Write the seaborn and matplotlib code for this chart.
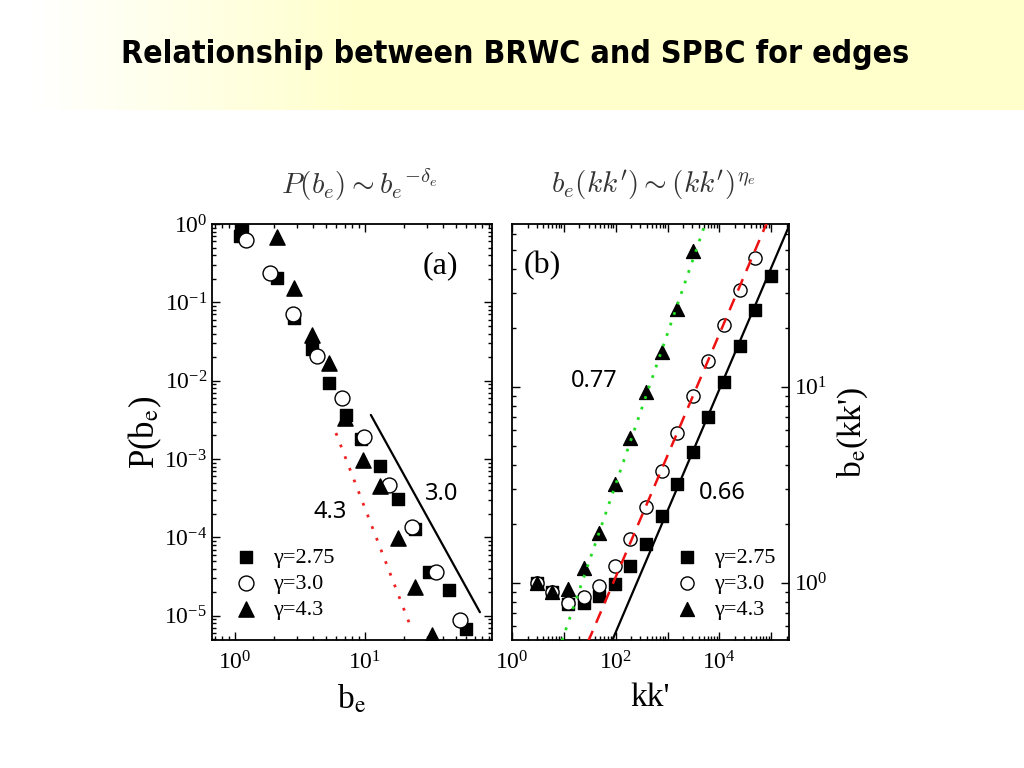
import numpy as np
import pandas as pd
import seaborn as sns
import matplotlib.pyplot as plt
from matplotlib import ticker
from matplotlib.colors import LinearSegmentedColormap

# ---- panel (a): P(b_e) vs b_e
be_a_275 = [1.09, 1.13, 2.10, 2.84, 3.91, 5.28, 7.14, 9.31, 13.0, 17.9, 24.2, 31.0, 44.3, 59.8]
p_a_275 = [0.71, 0.95, 0.202, 0.0625, 0.0252, 0.0093, 0.00363, 0.0018, 8.1e-4, 3.1e-4, 1.28e-4, 3.6e-5, 2.1e-5, 6.8e-6]
be_a_30 = [1.215, 1.86, 2.79, 4.27, 6.65, 9.83, 15.3, 23.0, 35.2, 53.8]
p_a_30 = [0.616, 0.234, 0.0703, 0.0205, 0.006, 0.0019, 4.7e-4, 1.36e-4, 3.6e-5, 8.7e-6]
be_a_43 = [2.10, 2.84, 3.91, 5.28, 7.02, 9.66, 13.0, 17.9, 24.2, 32.8]
p_a_43 = [0.69, 0.151, 0.038, 0.0167, 0.0033, 9.8e-4, 4.5e-4, 9.9e-5, 2.3e-5, 5.6e-6]

# fitted power laws in (a): exponent, prefactor, x range
fit_a_solid = (-3.0, 5.0, 11.1, 76.7)
fit_a_dotted = (-4.3, 4.7, 5.98, 22.2)

# ---- panel (b): b_e(kk') vs kk'
kk_b = [3, 6, 12, 24, 48, 96, 192, 384, 768, 1536, 3072, 6144, 12288, 24576, 49152, 98304]
b_b_275 = [1.00, 0.90, 0.78, 0.79, 0.86, 0.99, 1.21, 1.57, 2.18, 3.18, 4.64, 7.0, 10.6, 16.2, 24.5, 36.6]
b_b_30 = [1.00, 0.90, 0.79, 0.85, 0.965, 1.22, 1.68, 2.42, 3.71, 5.81, 9.0, 13.6, 20.6, 31.1, 45.3]
b_b_43 = [1.00, 0.90, 0.93, 1.19, 1.80, 3.18, 5.47, 9.43, 15.1, 24.8, 49.2]

fit_b_solid = (0.62, 10 ** -1.493, 50, 3e5)
fit_b_dashed = (0.62, 10 ** -1.211, 20, 3e5)
fit_b_dotted = (0.77, 10 ** -1.038, 3, 3e5)

legend_labels = ['γ=2.75', 'γ=3.0', 'γ=4.3']

sns.set_style('ticks')
plt.rcParams['font.family'] = ['Liberation Serif', 'DejaVu Serif']
plt.rcParams['mathtext.fontset'] = 'stix'
plt.rcParams['text.color'] = 'black'
plt.rcParams['axes.labelcolor'] = 'black'
plt.rcParams['xtick.direction'] = 'in'
plt.rcParams['ytick.direction'] = 'in'
plt.rcParams['xtick.top'] = True
plt.rcParams['ytick.right'] = True
plt.rcParams['xtick.major.size'] = 6
plt.rcParams['ytick.major.size'] = 6
plt.rcParams['xtick.minor.size'] = 3
plt.rcParams['ytick.minor.size'] = 3
plt.rcParams['xtick.color'] = 'black'
plt.rcParams['ytick.color'] = 'black'
plt.rcParams['axes.edgecolor'] = 'black'
plt.rcParams['axes.linewidth'] = 1.3

fig = plt.figure(figsize=(10.24, 7.68), dpi=100)

# yellow banner at the top
bg = fig.add_axes([0, 1 - 110 / 768, 1, 110 / 768])
cmap = LinearSegmentedColormap.from_list('banner', [(0, 'white'), (0.03, 'white'), (0.35, '#FFFFCC'), (1, '#FFFFCC')])
bg.imshow(np.linspace(0, 1, 512)[None, :], aspect='auto', cmap=cmap, extent=[0, 1, 0, 1])
bg.set_axis_off()
fig.text(0.503, 1 - 55 / 768, 'Relationship between BRWC and SPBC for edges', ha='center', va='center',
         fontsize=23, fontweight='bold', stretch='condensed', color='black',
         family=['Liberation Sans Narrow', 'DejaVu Sans'])

axa = fig.add_axes([212 / 1024, 1 - 640 / 768, 280 / 1024, 416 / 768])
axb = fig.add_axes([512 / 1024, 1 - 640 / 768, 277 / 1024, 416 / 768])


def draw_series(ax, xs, ys, marker, face, size, label):
    sns.scatterplot(x=xs, y=ys, ax=ax, marker=marker, color=face, edgecolor='black',
                    linewidth=1.0, s=size, label=label, zorder=1)


def draw_fit(ax, fit, **kw):
    slope, pref, lo, hi = fit
    xs = np.array([lo, hi])
    ax.plot(xs, pref * xs ** slope, zorder=3, **kw)


# ---- (a)
axa.set_xscale('log')
axa.set_yscale('log')
draw_series(axa, be_a_275, p_a_275, 's', 'black', 85, legend_labels[0])
draw_series(axa, be_a_30, p_a_30, 'o', 'white', 115, legend_labels[1])
draw_series(axa, be_a_43, p_a_43, '^', 'black', 120, legend_labels[2])
draw_fit(axa, fit_a_solid, color='black', lw=1.6)
draw_fit(axa, fit_a_dotted, color='#EE2222', lw=2.0, ls=(0, (1, 3.5)))
axa.set_xlim(0.665, 95)
axa.set_ylim(4.9e-6, 1.0)

# ---- (b)
axb.set_xscale('log')
axb.set_yscale('log')
draw_series(axb, kk_b, b_b_275, 's', 'black', 70, legend_labels[0])
draw_series(axb, kk_b[:len(b_b_30)], b_b_30, 'o', 'white', 90, legend_labels[1])
draw_series(axb, kk_b[:len(b_b_43)], b_b_43, '^', 'black', 100, legend_labels[2])
draw_fit(axb, fit_b_solid, color='black', lw=1.6)
draw_fit(axb, fit_b_dashed, color='#EE1111', lw=1.8, ls=(0, (5, 3.5)))
draw_fit(axb, fit_b_dotted, color='#22DD22', lw=2.0, ls=(0, (1, 3)))
axb.set_xlim(1.0, 2.2e5)
axb.set_ylim(0.51, 67.6)

for ax in (axa, axb):
    ax.xaxis.set_major_locator(ticker.LogLocator(base=10, numticks=20))
    ax.yaxis.set_major_locator(ticker.LogLocator(base=10, numticks=20))
    ax.xaxis.set_minor_locator(ticker.LogLocator(base=10, subs=np.arange(2, 10), numticks=20))
    ax.yaxis.set_minor_locator(ticker.LogLocator(base=10, subs=np.arange(2, 10), numticks=20))
    ax.xaxis.set_minor_formatter(ticker.NullFormatter())
    ax.yaxis.set_minor_formatter(ticker.NullFormatter())
    ax.tick_params(which='both', width=1.0, labelsize=17, top=True, right=True)
    ax.tick_params(axis='x', pad=8)

axb.xaxis.set_major_formatter(ticker.FuncFormatter(
    lambda v, p: r'$\mathdefault{10^{%d}}$' % round(np.log10(v)) if round(np.log10(v)) % 2 == 0 else ''))
axb.tick_params(axis='y', which='both', left=True, right=True, labelleft=False, labelright=True)
axb.yaxis.set_label_position('right')

axa.set_xlabel(r'b$_{\rm e}$', fontsize=24, labelpad=6)
axa.set_ylabel(r'P(b$_{\rm e}$)', fontsize=25, labelpad=0)
axb.set_xlabel("kk'", fontsize=24, labelpad=6)
axb.set_ylabel(r"b$_{\rm e}$(kk')", fontsize=24, labelpad=6)

# panel tags and slope labels
axa.text(0.814, 0.899, '(a)', transform=axa.transAxes, ha='center', va='center', fontsize=23)
axb.text(0.108, 0.901, '(b)', transform=axb.transAxes, ha='center', va='center', fontsize=23)
sans = ['Noto Sans', 'DejaVu Sans']
axa.text(0.821, 0.351, '3.0', transform=axa.transAxes, ha='center', va='center', fontsize=17, family=sans)
axa.text(0.421, 0.308, '4.3', transform=axa.transAxes, ha='center', va='center', fontsize=17, family=sans)
axb.text(0.296, 0.623, '0.77', transform=axb.transAxes, ha='center', va='center', fontsize=17, family=sans)
axb.text(0.758, 0.353, '0.66', transform=axb.transAxes, ha='center', va='center', fontsize=17, family=sans)

for ax, x0 in ((axa, 0.08), (axb, 0.59)):
    ax.legend(loc='lower left', bbox_to_anchor=(x0, 0.048), frameon=False, fontsize=16,
              handlelength=1.0, handletextpad=0.75, labelspacing=0.25, borderpad=0, borderaxespad=0)

# formulas above the panels
fig.text(359 / 1024, 1 - 185 / 768, r'$P(b_e) \sim {b_e}^{-\delta_e}$', ha='center', va='center',
         fontsize=21, color='#333333', math_fontfamily='cm')
fig.text(653 / 1024, 1 - 185 / 768, r"$b_e(kk') \sim (kk')^{\eta_e}$", ha='center', va='center',
         fontsize=21, color='#333333', math_fontfamily='cm')

plt.savefig('out.png', dpi=100)
